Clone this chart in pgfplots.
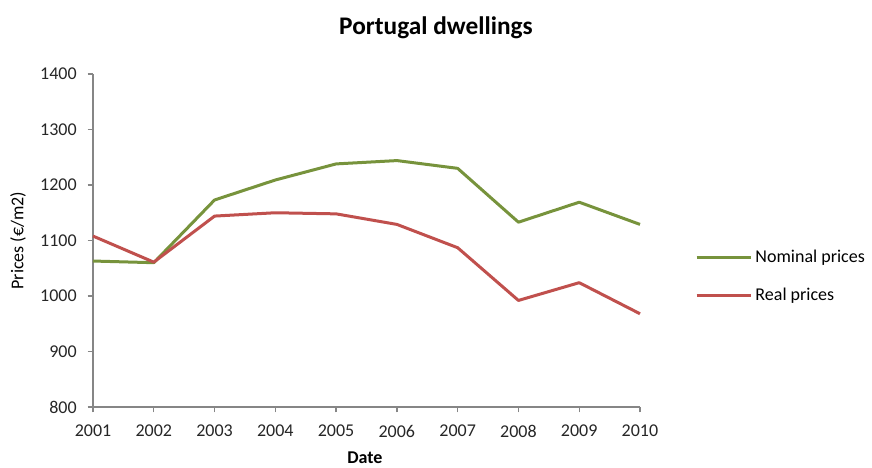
\documentclass[border=0pt]{standalone}
\usepackage{fontspec}
\setmainfont{Carlito}
\usepackage{pgfplots}
\pgfplotsset{compat=1.18}

\definecolor{nominal}{HTML}{77933C}
\definecolor{real}{HTML}{C0504D}
\definecolor{axisgray}{HTML}{868686}

\begin{document}
\begin{tikzpicture}[x=1pt,y=1pt]
\useasboundingbox (0,0) rectangle (654,351);
\begin{axis}[
  at={(69.75pt,45.75pt)}, anchor=south west,
  scale only axis, width=410.25pt, height=249.75pt,
  xmin=2001, xmax=2010, ymin=800, ymax=1400,
  xtick={2001,...,2010}, ytick={800,900,...,1400},
  axis lines=left,
  axis line style={draw=axisgray, line width=1pt, -},
  tick style={draw=axisgray, line width=1pt},
  tick align=outside, major tick length=4pt,
  xtick pos=bottom, ytick pos=left,
  /pgf/number format/assume math mode=true,
  /pgf/number format/1000 sep={},
  tick label style={font=\fontsize{13.5}{16}\selectfont, text=black!85},
  xticklabel style={yshift=-6pt},
  yticklabel style={xshift=-4.75pt},
  title={\textbf{Portugal dwellings}},
  title style={at={(0.627,1)}, anchor=center, yshift=28.5pt, font=\fontsize{19}{22}\selectfont},
  xlabel={\textbf{Date}},
  xlabel style={at={(0.497,0)}, anchor=center, yshift=-38pt, inner sep=0pt, font=\fontsize{13.5}{16}\selectfont},
  ylabel={Prices (€/m2)},
  ylabel style={at={(axis description cs:-0.137,0.5)}, anchor=center, font=\fontsize{13.5}{16}\selectfont},
  legend style={at={(1.093,0.392)}, anchor=west, draw=none, fill=none,
    font=\fontsize{13.5}{16}\selectfont, row sep=13.5pt},
  legend cell align=left,
  legend image code/.code={\draw[#1] (0pt,0pt) -- (41pt,0pt);},
  clip=false,
]
\addplot[nominal, line width=2.25pt, line join=round] coordinates {
  (2001,1063) (2002,1060) (2003,1173) (2004,1209) (2005,1238)
  (2006,1244) (2007,1230) (2008,1133) (2009,1169) (2010,1129)
};
\addlegendentry{Nominal prices}
\addplot[real, line width=2.25pt, line join=round] coordinates {
  (2001,1108) (2002,1061) (2003,1144) (2004,1150) (2005,1148)
  (2006,1129) (2007,1087) (2008,992) (2009,1024) (2010,968)
};
\addlegendentry{Real prices}
\end{axis}
\end{tikzpicture}
\end{document}
